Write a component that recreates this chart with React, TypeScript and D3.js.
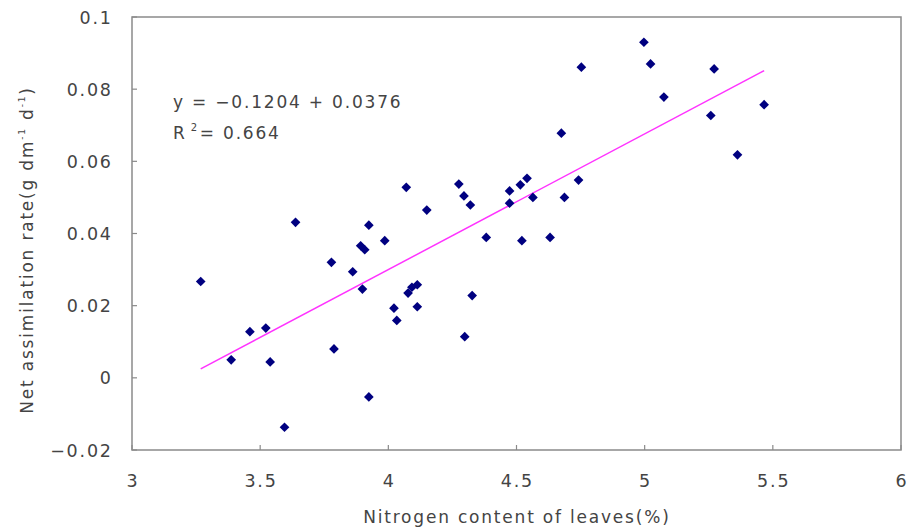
import React from "react";
import * as d3 from "d3";

const nitrogen = [3.268,3.387,3.46,3.522,3.539,3.595,3.638,3.778,3.788,3.861,3.892,3.899,3.908,3.924,3.924,3.986,4.022,4.033,4.07,4.077,4.092,4.113,4.113,4.15,4.275,4.295,4.298,4.32,4.327,4.382,4.473,4.473,4.515,4.521,4.541,4.564,4.631,4.675,4.687,4.742,4.753,4.997,5.023,5.075,5.258,5.271,5.362,5.466];
const nar = [0.0267,0.005,0.0128,0.0138,0.0044,-0.0137,0.0431,0.032,0.008,0.0294,0.0366,0.0246,0.0355,0.0423,-0.0053,0.038,0.0193,0.0159,0.0528,0.0235,0.0251,0.0258,0.0197,0.0465,0.0537,0.0504,0.0114,0.0479,0.0228,0.0389,0.0518,0.0484,0.0535,0.038,0.0553,0.05,0.0389,0.0678,0.05,0.0548,0.0861,0.093,0.087,0.0778,0.0727,0.0856,0.0618,0.0757];
const xTicks = [3, 3.5, 4, 4.5, 5, 5.5, 6];
const yTicks = [-0.02, 0, 0.02, 0.04, 0.06, 0.08, 0.1];
const intercept = -0.1204;
const slope = 0.0376;
const equationText = "y = \u22120.1204 + 0.0376";
const r2Text = "0.664";

const W = 909, H = 531;
const L = 132, R = 901, T = 17, B = 450;
const FONT = "'DejaVu Sans', sans-serif";
const TXT = "#444";
const AX = "#8a8a8a";
const LS = 1.8;

function fmtY(v: number) {
  if (Math.abs(v) < 1e-9) return "0";
  const s = String(Math.round(v * 100) / 100);
  return s.replace("-", "\u2212");
}

export default function App() {
  const x = d3.scaleLinear().domain([3, 6]).range([L, R]);
  const y = d3.scaleLinear().domain([-0.02, 0.1]).range([B, T]);
  const xMin = d3.min(nitrogen) as number;
  const xMax = d3.max(nitrogen) as number;
  const line = d3.line<number>().x((d) => x(d)).y((d) => y(intercept + slope * d));
  const diamond = d3.symbol().type(d3.symbolDiamond2).size(60)() as string;
  return (
    <svg width={W} height={H} style={{ position: "absolute", left: 0, top: 0, background: "#fff" }} fontFamily={FONT}>
      <rect x={0} y={0} width={W} height={H} fill="#fff" />
      <rect x={L} y={T} width={R - L} height={B - T} fill="none" stroke={AX} strokeWidth={1.5} />
      {xTicks.map((t) => (
        <g key={"x" + t}>
          <line x1={x(t)} x2={x(t)} y1={B} y2={B - 5} stroke={AX} strokeWidth={1.2} />
          <text x={x(t) + LS / 2} y={487} textAnchor="middle" fontSize={17.5} letterSpacing={LS} fill={TXT}>{String(t)}</text>
        </g>
      ))}
      {yTicks.map((t) => (
        <g key={"y" + t}>
          <line x1={L} x2={L + 5} y1={y(t)} y2={y(t)} stroke={AX} strokeWidth={1.2} />
          <text x={111 + LS} y={y(t) + 6.5} textAnchor="end" fontSize={17.5} letterSpacing={LS} fill={TXT}>{fmtY(t)}</text>
        </g>
      ))}
      <path d={line([xMin, xMax]) as string} fill="none" stroke="#ff33ff" strokeWidth={1.5} />
      {nitrogen.map((n, i) => (
        <path key={i} d={diamond} transform={`translate(${x(n)},${y(nar[i])})`} fill="#000080" />
      ))}
      <text x={173} y={108} fontSize={17} letterSpacing={LS} fill={TXT}>{equationText}</text>
      <text x={173} y={139} fontSize={17} letterSpacing={LS} fill={TXT}>
        R<tspan dx={4} dy={-8} fontSize={10}>2</tspan><tspan dy={8} dx={1}>= {r2Text}</tspan>
      </text>
      <text x={516 + LS / 2} y={523} textAnchor="middle" fontSize={17} letterSpacing={LS} fill={TXT}>Nitrogen content of leaves(%)</text>
      <text transform={`translate(33,250) rotate(-90)`} textAnchor="middle" fontSize={17} letterSpacing={LS} fill={TXT}>
        Net assimilation rate(g dm<tspan dy={-8} fontSize={9}>-1</tspan><tspan dy={8}> d</tspan><tspan dy={-8} fontSize={9}>-1</tspan><tspan dy={8}>)</tspan>
      </text>
    </svg>
  );
}
